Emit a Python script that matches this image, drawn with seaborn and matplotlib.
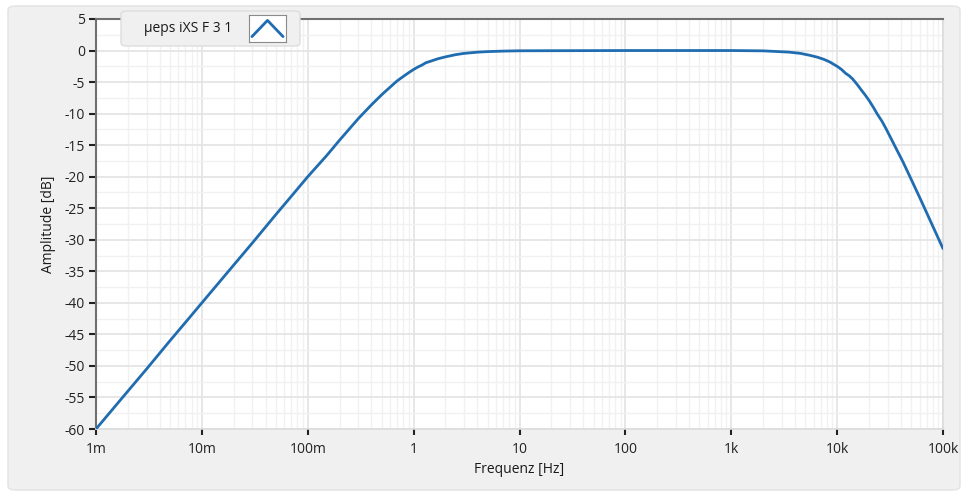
import numpy as np
import pandas as pd
import seaborn as sns
import matplotlib.pyplot as plt
from matplotlib.patches import FancyBboxPatch
from matplotlib.ticker import FixedLocator, LogLocator, MultipleLocator

# Werte
freq_hz = [0.001, 0.002, 0.003, 0.005, 0.007, 0.01, 0.02, 0.03, 0.05, 0.07,
           0.1, 0.15, 0.2, 0.3, 0.4, 0.5, 0.6, 0.7, 0.8, 0.9, 1.0, 1.1, 1.2,
           1.3, 1.5, 1.7, 2.0, 2.5, 3.0, 4.0, 5.0, 7.0, 10.0, 100.0, 1000.0,
           2000.0, 3500.0, 4500.0, 5500.0, 6500.0, 7500.0, 8500.0, 9000.0,
           10000.0, 11000.0, 12000.0, 13000.0, 14000.0, 15500.0, 17000.0,
           18500.0, 20000.0, 22000.0, 24000.0, 26500.0, 29000.0, 35000.0,
           42000.0, 50000.0, 61000.0, 75000.0, 100000.0]
amp_db = [-60.0, -54.0, -50.5, -46.0, -43.1, -40.0, -34.0, -30.5, -26.0, -23.1,
          -20.0, -16.7, -14.2, -10.8, -8.6, -7.0, -5.8, -4.8, -4.1, -3.5, -3.0,
          -2.6, -2.3, -1.95, -1.6, -1.3, -1.0, -0.65, -0.45, -0.26, -0.17,
          -0.09, -0.04, 0.0, 0.0, -0.05, -0.25, -0.45, -0.75, -1.05, -1.4,
          -1.8, -2.05, -2.5, -3.0, -3.6, -4.0, -4.5, -5.4, -6.3, -7.1, -7.9,
          -9.0, -10.1, -11.2, -12.4, -15.1, -17.7, -20.4, -23.5, -26.8, -31.4]

x_ticks = [1e-3, 1e-2, 1e-1, 1, 10, 100, 1e3, 1e4, 1e5]
x_labels = ["1m", "10m", "100m", "1", "10", "100", "1k", "10k", "100k"]
y_ticks = list(range(-60, 6, 5))

df = pd.DataFrame({"f": freq_hz, "a": amp_db})

sns.set_style("ticks")
plt.rcParams["font.family"] = ["Open Sans", "DejaVu Sans"]
plt.rcParams["axes.unicode_minus"] = False

fig = plt.figure(figsize=(9.67, 4.94), dpi=100, facecolor="white")

# grauer Rahmen
panel = FancyBboxPatch((8 / 967, 4 / 494), 952 / 967, 484 / 494,
                       boxstyle="round,pad=0,rounding_size=0.008",
                       transform=fig.transFigure, facecolor="#f0f0f0",
                       edgecolor="#e2e2e2", linewidth=1, zorder=-5)
fig.add_artist(panel)

ax = fig.add_axes([96 / 967, 1 - 429 / 494, 847 / 967, 410 / 494])
ax.set_facecolor("white")

line_col = "#1f6db0"
sns.lineplot(data=df, x="f", y="a", ax=ax, color=line_col, linewidth=2.0,
             legend=False, zorder=5)

ax.set_xscale("log")
ax.set_xlim(1e-3, 1e5)
ax.set_ylim(-60, 5)

ax.xaxis.set_major_locator(FixedLocator(x_ticks))
ax.set_xticklabels(x_labels)
ax.xaxis.set_minor_locator(LogLocator(base=10, subs=np.arange(2, 10), numticks=20))
ax.set_yticks(y_ticks)
ax.yaxis.set_minor_locator(MultipleLocator(2.5))

ax.grid(which="major", color="#e3e3e3", linewidth=1.2)
ax.grid(which="minor", color="#f1f1f1", linewidth=1.0)

ax.tick_params(axis="both", which="major", direction="out", length=5,
               width=1.5, colors="#222222", labelsize=10, pad=3,
               bottom=True, left=True)
ax.tick_params(axis="x", which="major", length=4, pad=5)
ax.tick_params(which="minor", length=0, width=0)

for side in ["left", "top"]:
    ax.spines[side].set_color("#707070")
    ax.spines[side].set_linewidth(1.5)
for side in ["right", "bottom"]:
    ax.spines[side].set_color("#dcdcdc")
    ax.spines[side].set_linewidth(1.2)

ax.set_xlabel("Frequenz [Hz]", fontsize=10, color="#1a1a1a", labelpad=4)
ax.set_ylabel("Amplitude [dB]", fontsize=10, color="#1a1a1a", labelpad=6)

# Legende wie im Original
leg_bg = FancyBboxPatch((121 / 967, 1 - 46 / 494), 179 / 967, 35 / 494,
                        boxstyle="round,pad=0,rounding_size=0.006",
                        transform=fig.transFigure, facecolor="#f0f0f0",
                        edgecolor="#dddddd", linewidth=1, zorder=10)
fig.add_artist(leg_bg)
fig.text(188 / 967, 1 - 29 / 494, "µeps iXS F 3 1", ha="center", va="center",
         fontsize=10, color="#1a1a1a", zorder=11)
icon = fig.add_axes([249 / 967, 1 - 42 / 494, 37 / 967, 27 / 494])
icon.set_zorder(12)
icon.set_facecolor("white")
icon.plot([0.08, 0.5, 0.92], [0.2, 0.8, 0.2], color=line_col, linewidth=2)
icon.set_xlim(0, 1)
icon.set_ylim(0, 1)
icon.set_xticks([])
icon.set_yticks([])
for s in icon.spines.values():
    s.set_color("#8a8a8a")
    s.set_linewidth(0.8)

fig.savefig("out.png", dpi=100, facecolor="white")
